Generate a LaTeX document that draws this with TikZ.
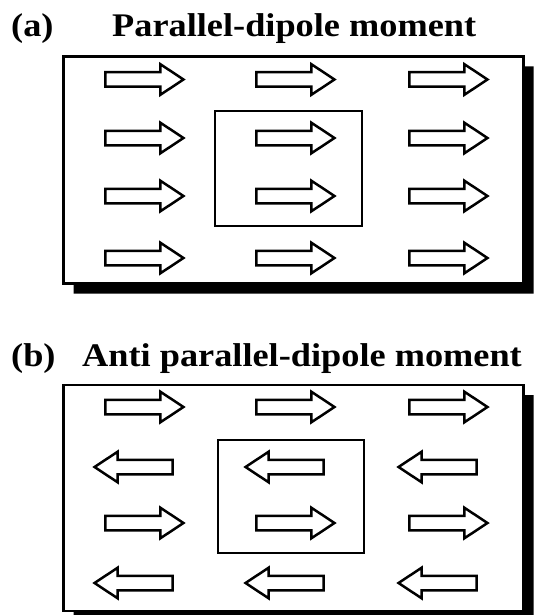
\documentclass[tikz,border=0pt]{standalone}
\usepackage{fontspec}
\setmainfont{Liberation Serif}
\usetikzlibrary{shapes.arrows,shapes.misc,shadows}

\tikzset{
  titletext/.style={anchor=base west, inner sep=0pt, font=\bfseries\fontsize{33}{33}\selectfont},
  panelbox/.style={chamfered rectangle, chamfered rectangle xsep=8pt, chamfered rectangle ysep=8pt,
    draw, line width=2.6pt, fill=white, inner sep=0pt,
    drop shadow={shadow xshift=10pt, shadow yshift=-10pt, opacity=1, fill=black}},
  domainbox/.style={rectangle, draw, line width=2.2pt, inner sep=0pt},
  dipole/.style={single arrow, draw, line width=2.5pt, fill=white,
    inner xsep=0pt, inner ysep=6pt, text width=0pt, text height=0pt, text depth=0pt,
    single arrow head extend=8pt, single arrow tip angle=67, minimum height=78pt},
  dright/.style={dipole},
  dleft/.style={dipole, shape border rotate=180},
}

\begin{document}
\begin{tikzpicture}[x=1pt, y=-1pt]
  \useasboundingbox (0,0) rectangle (536,615);

  % ---------- (a) parallel dipoles ----------
  \node[titletext] (la) at (11,37) {\scalebox{1.1}[1]{(a)}};
  \node[titletext] (ta) at (112,37) {\scalebox{1.1}[1]{Parallel-dipole moment}};
  \node[panelbox, minimum width=460pt, minimum height=227pt] (pa) at (293.5,170) {};
  \node[domainbox, minimum width=147pt, minimum height=115pt] (da) at (288.5,168.5) {};

  \foreach \r/\y in {1/79.5, 2/138, 3/196, 4/258}{
    \foreach \c/\x in {1/139, 2/290, 3/443}{
      \node[dright] (a\r\c) at (\x,\y) {};
    }
  }

  % ---------- (b) antiparallel dipoles ----------
  \node[titletext] (lb) at (11,366) {\scalebox{1.1}[1]{(b)}};
  \node[titletext] (tb) at (82,366) {\scalebox{1.1}[1]{Anti parallel-dipole moment}};
  \node[panelbox, minimum width=460pt, minimum height=226pt] (pb) at (293.5,498) {};
  \node[domainbox, minimum width=146pt, minimum height=113pt] (db) at (291,496.5) {};

  \foreach \r/\y/\d in {1/407/dright, 2/467/dleft, 3/523/dright, 4/583/dleft}{
    \foreach \c/\x in {1/139, 2/290, 3/443}{
      \node[\d] (b\r\c) at (\x,\y) {};
    }
  }
\end{tikzpicture}
\end{document}
